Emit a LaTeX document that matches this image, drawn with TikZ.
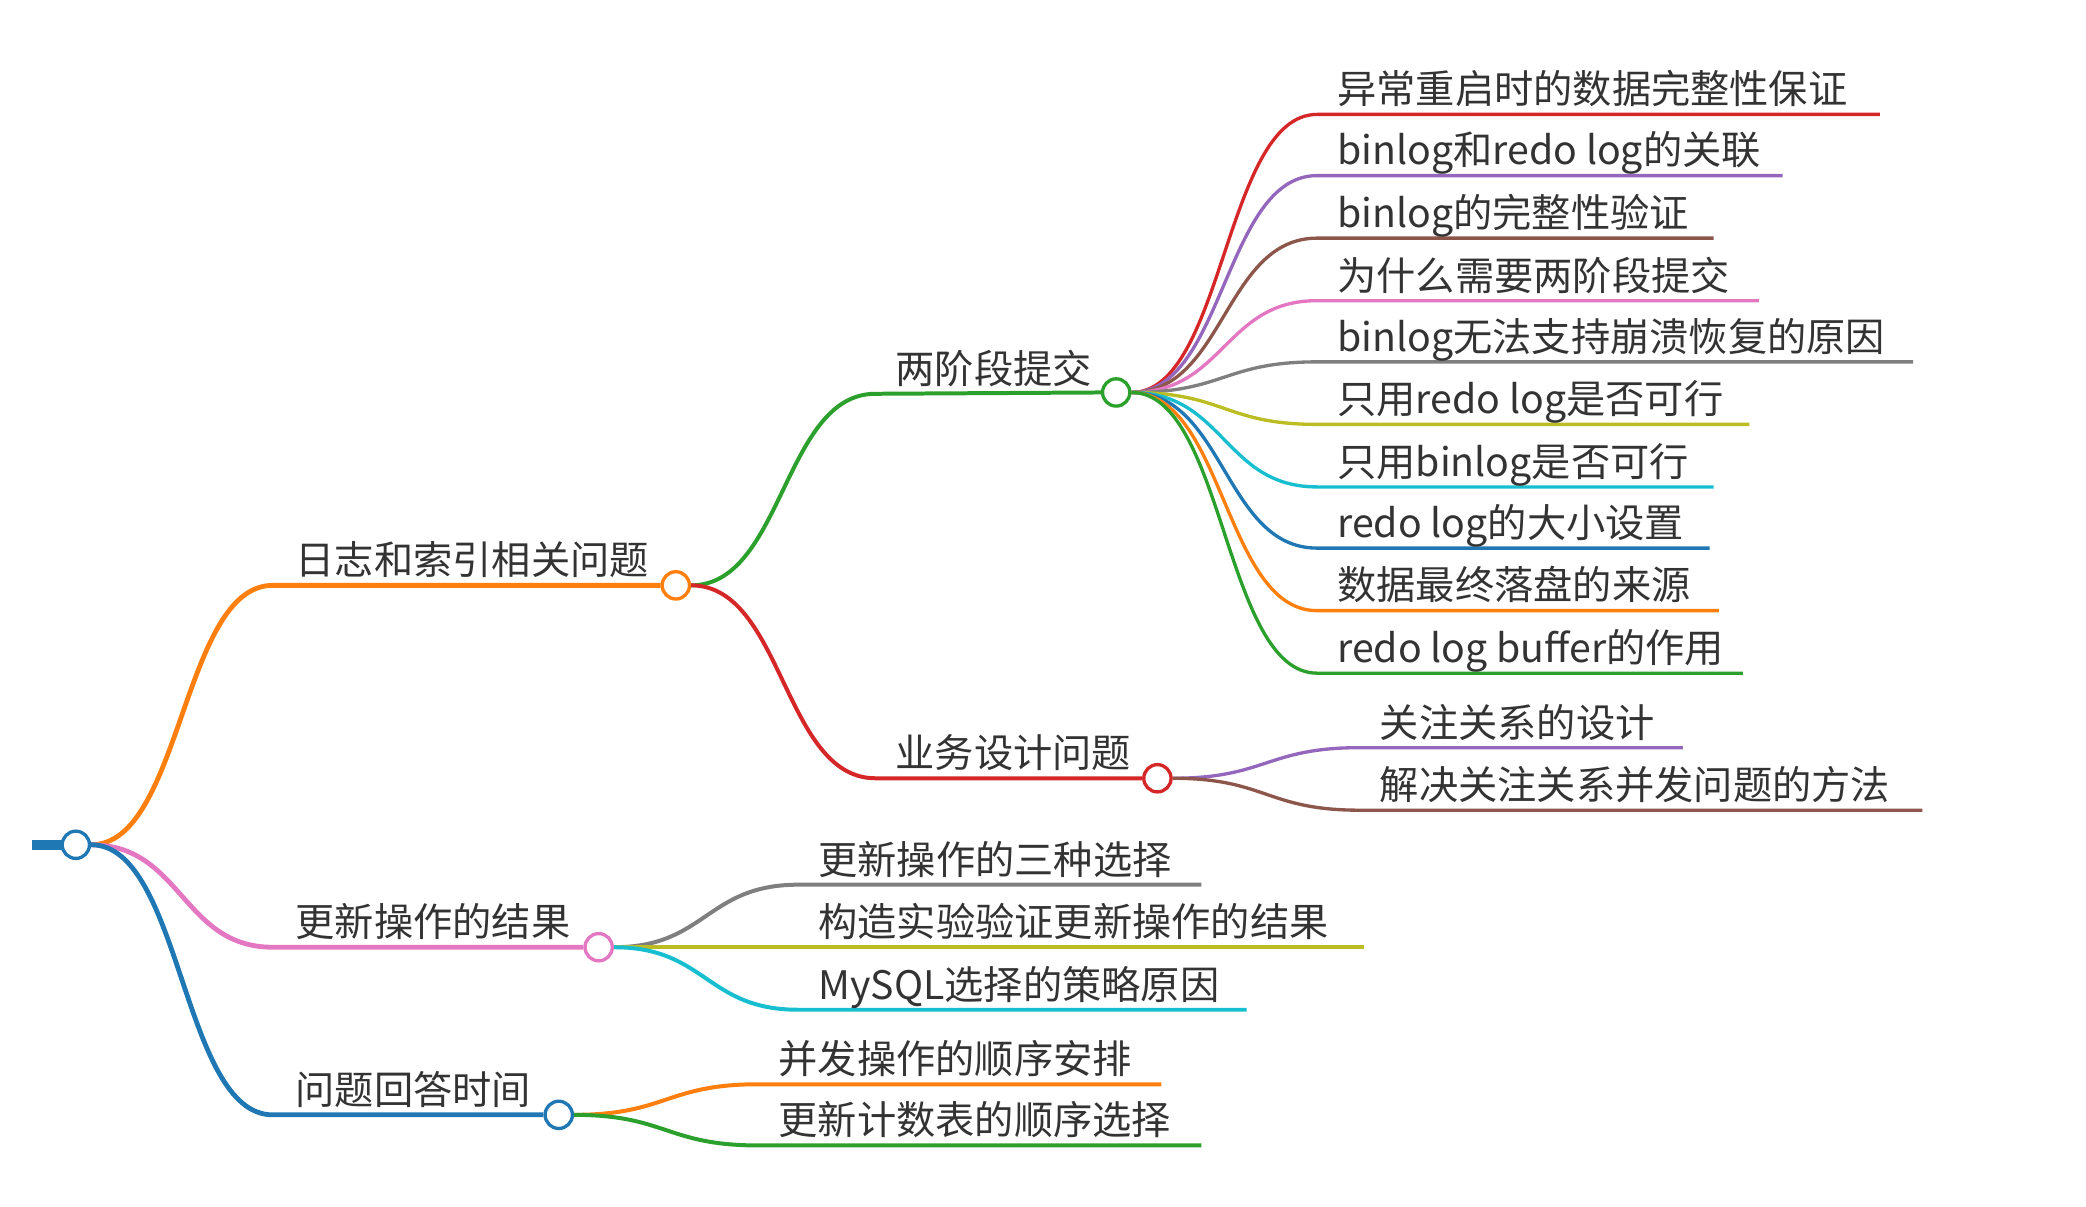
\documentclass[tikz,border=0pt]{standalone}
\usepackage{fontspec}
\setmainfont{Noto Sans CJK SC}
\usetikzlibrary{calc}
\definecolor{cB}{HTML}{1F77B4}
\definecolor{cO}{HTML}{FF7F0E}
\definecolor{cG}{HTML}{2CA02C}
\definecolor{cR}{HTML}{D62728}
\definecolor{cP}{HTML}{9467BD}
\definecolor{cBr}{HTML}{8C564B}
\definecolor{cPk}{HTML}{E377C2}
\definecolor{cGy}{HTML}{7F7F7F}
\definecolor{cOl}{HTML}{BCBD22}
\definecolor{cC}{HTML}{17BECF}
\definecolor{txt}{HTML}{333333}
\pgfdeclarelayer{bg}
\pgfsetlayers{bg,main}
\tikzset{
  lbl/.style={anchor=base west, inner sep=0pt, text=txt, font=\fontsize{29.5}{34}\selectfont},
  hub/.style={circle, draw, fill=white, minimum size=20.5pt, inner sep=0pt, line width=2.5pt},
  lone/.style={line width=3.6pt},
  ltwo/.style={line width=3pt},
  lthree/.style={line width=2.5pt}
}
\newcommand\conn[4][]{\draw[#1] let \p1=(#2), \p2=(#3) in (\p1) .. controls ({(\x1+\x2)/2},\y1) and ({(\x1+\x2)/2},\y2) .. (\p2) -- (#4);}
\begin{document}
\begin{tikzpicture}[x=1pt,y=-1pt]
\useasboundingbox (0,0) rectangle (1568,907);
% root
\node[hub, draw=cB] (root) at (57,635) {};
\coordinate (stub) at (24,635);
% level 1
\coordinate (As) at (205,440); \node[lbl] (At) at (222,432) {日志和索引相关问题}; \node[hub, draw=cO] (A) at (508,440) {};
\coordinate (Bs) at (205,712); \node[lbl] (Bt) at (222,704) {更新操作的结果}; \node[hub, draw=cPk] (B) at (450,712) {};
\coordinate (Cs) at (205,838); \node[lbl] (Ct) at (222,830) {问题回答时间}; \node[hub, draw=cB] (C) at (420,838) {};
% level 2
\coordinate (A1s) at (658,296); \node[lbl] (A1t) at (673,288) {两阶段提交}; \node[hub, draw=cG] (A1) at (839,295) {};
\coordinate (A2s) at (658,585); \node[lbl] (A2t) at (673,577) {业务设计问题}; \node[hub, draw=cR] (A2) at (870,585) {};
\coordinate (B1s) at (600,665); \node[lbl] (B1t) at (615,657) {更新操作的三种选择}; \coordinate (B1e) at (903,665);
\coordinate (B2s) at (600,712); \node[lbl] (B2t) at (615,704) {构造实验验证更新操作的结果}; \coordinate (B2e) at (1025,712);
\coordinate (B3s) at (600,759); \node[lbl] (B3t) at (615,751) {MySQL选择的策略原因}; \coordinate (B3e) at (937,759);
\coordinate (C1s) at (570,815); \node[lbl] (C1t) at (585,807) {并发操作的顺序安排}; \coordinate (C1e) at (873,815);
\coordinate (C2s) at (570,861); \node[lbl] (C2t) at (585,853) {更新计数表的顺序选择}; \coordinate (C2e) at (903,861);
% level 3 under A1
\coordinate (L1s) at (990,86);  \node[lbl] (L1t) at (1005,78)  {异常重启时的数据完整性保证}; \coordinate (L1e) at (1413,86);
\coordinate (L2s) at (990,132); \node[lbl] (L2t) at (1005,124) {binlog和redo log的关联}; \coordinate (L2e) at (1340,132);
\coordinate (L3s) at (990,179); \node[lbl] (L3t) at (1005,171) {binlog的完整性验证}; \coordinate (L3e) at (1288,179);
\coordinate (L4s) at (990,226); \node[lbl] (L4t) at (1005,218) {为什么需要两阶段提交}; \coordinate (L4e) at (1322,226);
\coordinate (L5s) at (990,272); \node[lbl] (L5t) at (1005,264) {binlog无法支持崩溃恢复的原因}; \coordinate (L5e) at (1438,272);
\coordinate (L6s) at (990,319); \node[lbl] (L6t) at (1005,311) {只用redo log是否可行}; \coordinate (L6e) at (1315,319);
\coordinate (L7s) at (990,366); \node[lbl] (L7t) at (1005,358) {只用binlog是否可行}; \coordinate (L7e) at (1288,366);
\coordinate (L8s) at (990,412); \node[lbl] (L8t) at (1005,404) {redo log的大小设置}; \coordinate (L8e) at (1285,412);
\coordinate (L9s) at (990,459); \node[lbl] (L9t) at (1005,451) {数据最终落盘的来源}; \coordinate (L9e) at (1292,459);
\coordinate (L10s) at (990,506); \node[lbl] (L10t) at (1005,498) {redo log buffer的作用}; \coordinate (L10e) at (1310,506);
% level 3 under A2
\coordinate (M1s) at (1022,562); \node[lbl] (M1t) at (1037,554) {关注关系的设计}; \coordinate (M1e) at (1265,562);
\coordinate (M2s) at (1022,609); \node[lbl] (M2t) at (1037,601) {解决关注关系并发问题的方法}; \coordinate (M2e) at (1445,609);
\begin{pgfonlayer}{bg}
\draw[cB, line width=7.5pt] (stub) -- (root.center);
\conn[cO, lone]{root.east}{As}{A.west}
\conn[cPk, lone]{root.east}{Bs}{B.west}
\conn[cB, lone]{root.east}{Cs}{C.west}
\conn[cG, ltwo]{A.east}{A1s}{A1.west}
\conn[cR, ltwo]{A.east}{A2s}{A2.west}
\conn[cGy, ltwo]{B.east}{B1s}{B1e}
\conn[cOl, ltwo]{B.east}{B2s}{B2e}
\conn[cC, ltwo]{B.east}{B3s}{B3e}
\conn[cO, ltwo]{C.east}{C1s}{C1e}
\conn[cG, ltwo]{C.east}{C2s}{C2e}
\conn[cR, lthree]{A1.east}{L1s}{L1e}
\conn[cP, lthree]{A1.east}{L2s}{L2e}
\conn[cBr, lthree]{A1.east}{L3s}{L3e}
\conn[cPk, lthree]{A1.east}{L4s}{L4e}
\conn[cGy, lthree]{A1.east}{L5s}{L5e}
\conn[cOl, lthree]{A1.east}{L6s}{L6e}
\conn[cC, lthree]{A1.east}{L7s}{L7e}
\conn[cB, lthree]{A1.east}{L8s}{L8e}
\conn[cO, lthree]{A1.east}{L9s}{L9e}
\conn[cG, lthree]{A1.east}{L10s}{L10e}
\conn[cP, lthree]{A2.east}{M1s}{M1e}
\conn[cBr, lthree]{A2.east}{M2s}{M2e}
\end{pgfonlayer}
\end{tikzpicture}
\end{document}
